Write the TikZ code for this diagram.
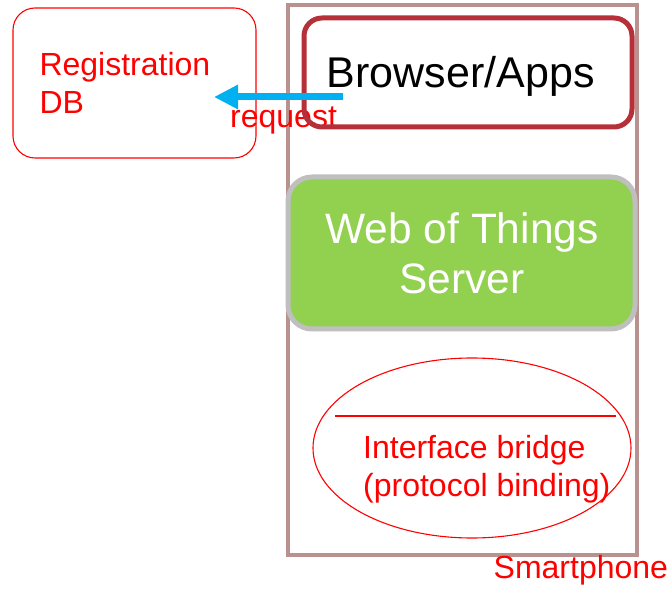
\documentclass[tikz,border=0pt]{standalone}
\usepackage{fontspec}
\setmainfont{Liberation Sans}
\usetikzlibrary{shapes.geometric,arrows.meta}
\definecolor{phoneborder}{RGB}{185,146,144}
\definecolor{appborder}{RGB}{181,48,56}
\definecolor{wotfill}{RGB}{146,208,80}
\definecolor{wotborder}{RGB}{191,191,191}
\definecolor{reqblue}{RGB}{0,176,240}
\definecolor{labelred}{RGB}{255,0,0}
\tikzset{
  x=1pt, y=-1pt,
  box/.style={rectangle, inner sep=0pt, outer sep=0pt},
  redtext/.style={text=labelred, inner sep=0pt, font=\fontsize{32}{38.5}\selectfont, align=left},
  bigtext/.style={inner sep=0pt, font=\fontsize{42.5}{50}\selectfont},
}
\begin{document}
\begin{tikzpicture}
\useasboundingbox (0,0) rectangle (669,593);

% smartphone frame
\node[box, draw=phoneborder, line width=4pt, minimum width=349pt, minimum height=550pt] (phone) at (462.5,280) {};
\node[redtext, anchor=base west] (phonelabel) at (493.5,578) {Smartphone};

% registration database
\node[box, draw=labelred, line width=1.1pt, rounded corners=22pt, minimum width=243pt, minimum height=150pt] (regdb) at (134.5,83) {};
\node[redtext, anchor=north west] (regdbtext) at (39.3,52.1) {Registration\\DB};

% request label
\node[redtext, anchor=base west] (reqlabel) at (230,128) {request};

% browser / apps layer
\node[box, draw=appborder, line width=5pt, rounded corners=18pt, minimum width=328pt, minimum height=109pt] (browser) at (468,72.5) {};
\node[bigtext, font=\fontsize{43}{50}\selectfont, anchor=base west] (browsertext) at (326.7,88) {Browser/Apps};

% web of things server
\node[box, fill=wotfill, draw=wotborder, line width=5pt, rounded corners=24pt, minimum width=347pt, minimum height=152pt] (wot) at (461.5,253) {};
\node[bigtext, text=white, align=center, anchor=north] (wottext) at (462,212.1) {Web of Things\\Server};

% interface bridge
\node[ellipse, draw=labelred, line width=1.1pt, minimum width=318pt, minimum height=180pt, inner sep=0pt] (bridge) at (472,448) {};
\coordinate (divl) at (335,416);
\coordinate (divr) at (616,416);
\draw[labelred, line width=2pt] (divl) -- (divr);
\node[redtext, anchor=north west] (bridgetext) at (363,434.7) {Interface bridge\\(protocol binding)};

% request arrow towards the database
\coordinate (reqstart) at (343,97);
\coordinate (reqend) at (214,97);
\draw[reqblue, line width=7pt, -{Triangle[length=24pt,width=23pt]}] (reqstart) -- (reqend);
\end{tikzpicture}
\end{document}
